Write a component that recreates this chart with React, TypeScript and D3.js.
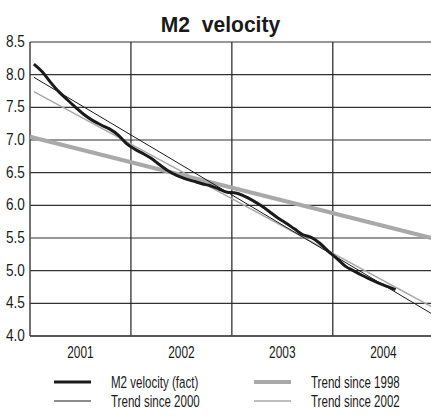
import React from "react";
import * as d3 from "d3";

const W = 431;
const H = 416;

const yTicks = [4.0, 4.5, 5.0, 5.5, 6.0, 6.5, 7.0, 7.5, 8.0, 8.5];
const yearLabels = ["2001", "2002", "2003", "2004"];

// Monthly M2 velocity (mid-month), Jan 2001 – Aug 2004
const velocityStart = "2001-01";
const velocityValues = [
  8.16, 8.04, 7.89, 7.74, 7.62, 7.5, 7.39, 7.3, 7.23, 7.17, 7.08, 6.95,
  6.86, 6.79, 6.72, 6.62, 6.53, 6.46, 6.41, 6.37, 6.33, 6.3, 6.25, 6.2,
  6.19, 6.14, 6.08, 6.0, 5.91, 5.81, 5.73, 5.64, 5.55, 5.51, 5.42, 5.3,
  5.19, 5.07, 5.0, 4.93, 4.87, 4.81, 4.76, 4.71,
];

// Trend lines: [date, value] endpoints
const trend1998 = [["2001-01-01", 7.05], ["2005-01-01", 5.49]];
const trend2000 = [["2001-01-15", 7.96], ["2005-01-01", 4.32]];
const trend2002 = [["2001-01-15", 7.74], ["2005-01-01", 4.43]];

const legendItems = [
  { label: "M2 velocity (fact)", color: "#1a1a1a", width: 3 },
  { label: "Trend since 1998", color: "#a9a9a9", width: 4 },
  { label: "Trend since 2000", color: "#1a1a1a", width: 1 },
  { label: "Trend since 2002", color: "#a9a9a9", width: 1.5 },
];

const FONT = "'Liberation Sans', Arial, sans-serif";

function CText({
  x,
  y,
  sx = 0.68,
  anchor = "start",
  size = 17,
  weight = "normal",
  children,
}: any) {
  return (
    <text
      transform={`translate(${x},${y}) scale(${sx},1)`}
      textAnchor={anchor}
      fontSize={size}
      fontWeight={weight}
      fill="#1a1a1a"
      style={{ whiteSpace: "pre" }}
    >
      {children}
    </text>
  );
}

export default function App() {
  const parse = d3.timeParse("%Y-%m-%d");
  const x = d3
    .scaleTime()
    .domain([parse("2001-01-01")!, parse("2005-01-01")!])
    .range([30, 434]);
  const y = d3.scaleLinear().domain([4, 8.5]).range([336, 42]);

  const [sy, sm] = velocityStart.split("-").map(Number);
  const velocity = velocityValues.map((v, i) => ({
    date: new Date(sy, sm - 1 + i, 15),
    value: v,
  }));

  const line = d3
    .line<{ date: Date; value: number }>()
    .x((d) => x(d.date))
    .y((d) => y(d.value))
    .curve(d3.curveMonotoneX);

  const trendPath = (t: any[]) =>
    line(t.map(([d, v]) => ({ date: parse(d)!, value: v })))!;

  const yearBounds = [2002, 2003, 2004].map((yr) => new Date(yr, 0, 1));

  return (
    <svg
      width={W}
      height={H}
      style={{ position: "fixed", left: 0, top: 0, background: "#fff" }}
      fontFamily={FONT}
    >
      <rect x={0} y={0} width={W} height={H} fill="#fff" />
      <CText x={220.5} y={32} anchor="middle" size={21.5} weight="bold" sx={0.98}>
        {"M2  velocity"}
      </CText>

      {yTicks.map((t) => (
        <g key={t}>
          <line x1={30} x2={W} y1={y(t)} y2={y(t)} stroke="#333" strokeWidth={1.2} />
          <CText x={6} y={y(t) + 5} sx={0.8}>
            {t.toFixed(1)}
          </CText>
        </g>
      ))}
      {yearBounds.map((d, i) => (
        <line key={i} x1={x(d)} x2={x(d)} y1={42} y2={336} stroke="#222" strokeWidth={1.2} />
      ))}
      <line x1={30} x2={30} y1={42} y2={336} stroke="#444" strokeWidth={1.5} />
      <line x1={30} x2={W} y1={336} y2={336} stroke="#444" strokeWidth={1.5} />

      {yearLabels.map((l) => {
        const yr = +l;
        const cx = (x(new Date(yr, 0, 1)) + x(new Date(yr + 1, 0, 1))) / 2;
        return (
          <CText key={l} x={cx} y={358} anchor="middle" sx={0.7}>
            {l}
          </CText>
        );
      })}

      <path d={trendPath(trend1998)} fill="none" stroke="#a9a9a9" strokeWidth={4} />
      <path d={trendPath(trend2002)} fill="none" stroke="#a9a9a9" strokeWidth={1.5} />
      <path d={trendPath(trend2000)} fill="none" stroke="#1a1a1a" strokeWidth={1} />
      <path d={line(velocity)!} fill="none" stroke="#1a1a1a" strokeWidth={3} />

      {legendItems.map((it, i) => {
        const col = i % 2;
        const row = Math.floor(i / 2);
        const lx = col === 0 ? 54 : 254;
        const ly = row === 0 ? 382 : 401;
        return (
          <g key={it.label}>
            <line x1={lx} x2={lx + 37} y1={ly} y2={ly} stroke={it.color} strokeWidth={it.width} />
            <CText x={lx + 57} y={ly + 6}>
              {it.label}
            </CText>
          </g>
        );
      })}
    </svg>
  );
}
